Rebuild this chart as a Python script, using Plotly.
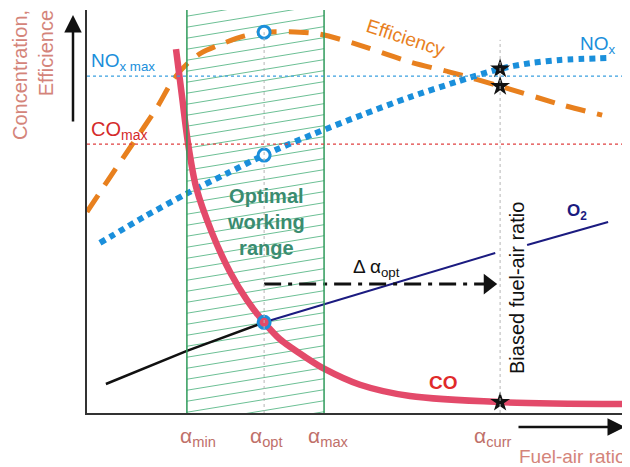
import numpy as np
import plotly.graph_objects as go

# ---------------- data (arbitrary units) ----------------
alpha_min = 1.85
alpha_opt = 3.28
alpha_max = 4.39
alpha_curr = 7.65
alpha_names = ["min", "opt", "max", "curr"]

nox_max = 83.6
co_max = 66.7

eff_x = [0.0, 0.39, 0.83, 1.30, 1.59, 1.85, 2.11, 2.50, 2.90, 3.28, 3.94, 4.31, 4.93, 5.98, 6.72, 7.65, 8.81, 9.54]
eff_y = [49.9, 57.8, 66.5, 75.9, 82.6, 86.6, 89.3, 91.6, 93.5, 94.5, 94.5, 94.0, 91.8, 87.1, 84.6, 81.1, 76.4, 73.9]

nox_x = [0.24, 1.05, 1.87, 2.60, 3.28, 4.19, 5.10, 5.98, 6.85, 7.65, 8.20, 8.76, 9.69]
nox_y = [42.2, 48.6, 54.6, 59.5, 64.0, 69.2, 74.0, 78.4, 82.2, 85.4, 86.8, 87.6, 88.1]

co_x = [1.648, 1.759, 1.870, 2.019, 2.315, 2.648, 2.963, 3.28, 3.574, 4.074, 4.389, 5.056, 5.981, 7.65, 10.02]
co_y = [90.3, 78.6, 67.0, 56.1, 44.7, 35.0, 28.0, 22.5, 18.3, 13.6, 11.0, 7.0, 4.2, 2.7, 2.2]

o2_lean_x = [0.35, 1.85, 3.28]
o2_lean_y = [7.2, 15.4, 22.5]
o2_rich_x = [3.28, 7.56, None, 8.15, 9.65]
o2_rich_y = [22.5, 39.7, None, 41.7, 47.4]

# ---------------- styling ----------------
FONT = "Liberation Sans, Arial, sans-serif"
C_EFF = "#E8801E"
C_NOX = "#1A8FDB"
C_CO = "#E34A6A"
C_O2 = "#1B1B80"
C_GREEN = "#2E9A5A"
C_HATCH = "#6CC095"
C_SALMON = "#D4847A"
C_TEAL = "#3A8C70"

# the page body adds an 8px margin: the figure is placed at (8, 8)
OFF = 8
W, H = 630 - OFF, 467 - OFF
ML, MR, MT, MB = 87 - OFF, 0, 10 - OFF, 54
PW = W - ML - MR
PH = H - MT - MB
XMAX = PW / 54.0


def px(xp):
    return (xp - 87) / PW


def py(yp):
    return (413 - yp) / PH


fig = go.Figure()

# hatched optimal working range
hatch_slope = 2.2
hatch_gap = 2.73
hx, hy = [], []
for c in np.arange(-8.0, 100.0, hatch_gap):
    hx += [alpha_min, alpha_max, None]
    hy += [c, c + hatch_slope * (alpha_max - alpha_min), None]
fig.add_trace(go.Scatter(x=hx, y=hy, mode="lines", line=dict(color=C_HATCH, width=1),
                         hoverinfo="skip", showlegend=False))

shapes = []
for a in (alpha_min, alpha_max):
    shapes.append(dict(type="line", xref="x", yref="y", x0=a, x1=a, y0=0, y1=100,
                       line=dict(color=C_GREEN, width=1.5)))
# reference horizontal lines
shapes.append(dict(type="line", xref="x", yref="y", x0=0, x1=XMAX, y0=nox_max, y1=nox_max,
                   line=dict(color="#3AA0E0", width=1.2, dash="dot")))
shapes.append(dict(type="line", xref="x", yref="y", x0=0, x1=XMAX, y0=co_max, y1=co_max,
                   line=dict(color="#E04040", width=1.2, dash="dot")))
# gray verticals
shapes.append(dict(type="line", xref="x", yref="y", x0=alpha_opt, x1=alpha_opt, y0=0,
                   y1=float(np.interp(alpha_opt, eff_x, eff_y)),
                   line=dict(color="#B5B5B5", width=1, dash="dot")))
shapes.append(dict(type="line", xref="x", yref="y", x0=alpha_curr, x1=alpha_curr, y0=0, y1=92.6,
                   line=dict(color="#B5B5B5", width=1, dash="dot")))

# curves
fig.add_trace(go.Scatter(x=o2_lean_x, y=o2_lean_y, mode="lines", line=dict(color="#111111", width=2.5),
                         hoverinfo="skip", showlegend=False))
fig.add_trace(go.Scatter(x=o2_rich_x, y=o2_rich_y, mode="lines", line=dict(color=C_O2, width=2),
                         connectgaps=False, hoverinfo="skip", showlegend=False))
fig.add_trace(go.Scatter(x=eff_x, y=eff_y, mode="lines",
                         line=dict(color=C_EFF, width=5, dash="20px,12px", shape="spline", smoothing=0.8),
                         hoverinfo="skip", showlegend=False))
fig.add_trace(go.Scatter(x=nox_x, y=nox_y, mode="lines",
                         line=dict(color=C_NOX, width=6, dash="6px,5px", shape="spline", smoothing=0.8),
                         hoverinfo="skip", showlegend=False))
fig.add_trace(go.Scatter(x=co_x, y=co_y, mode="lines",
                         line=dict(color=C_CO, width=6.5, shape="spline", smoothing=0.8),
                         hoverinfo="skip", showlegend=False))

# delta alpha arrow (dash-dot)
arrow_y = 32.0
head_x = alpha_curr - 0.22
fig.add_trace(go.Scatter(x=[alpha_opt, head_x], y=[arrow_y, arrow_y], mode="lines",
                         line=dict(color="#111111", width=3, dash="17px,7px,4px,7px"),
                         hoverinfo="skip", showlegend=False))
fig.add_trace(go.Scatter(x=[head_x], y=[arrow_y], mode="markers",
                         marker=dict(symbol="triangle-right", size=18, color="#111111"),
                         cliponaxis=False, hoverinfo="skip", showlegend=False))

# markers
eff_opt = float(np.interp(alpha_opt, eff_x, eff_y))
nox_opt = float(np.interp(alpha_opt, nox_x, nox_y))
co_opt = float(np.interp(alpha_opt, co_x, co_y))
fig.add_trace(go.Scatter(x=[alpha_opt, alpha_opt], y=[eff_opt, nox_opt], mode="markers",
                         marker=dict(symbol="circle", size=12, color="white",
                                     line=dict(color=C_NOX, width=3)),
                         hoverinfo="skip", showlegend=False))
fig.add_trace(go.Scatter(x=[alpha_opt], y=[co_opt], mode="markers",
                         marker=dict(symbol="circle", size=12, color=C_CO,
                                     line=dict(color=C_NOX, width=3)),
                         hoverinfo="skip", showlegend=False))
curr_vals = [float(np.interp(alpha_curr, nox_x, nox_y)),
             float(np.interp(alpha_curr, eff_x, eff_y)),
             float(np.interp(alpha_curr, co_x, co_y))]
fig.add_trace(go.Scatter(x=[alpha_curr] * 3, y=curr_vals, mode="markers",
                         marker=dict(symbol="star", size=15, color="#111111"),
                         cliponaxis=False, hoverinfo="skip", showlegend=False))

ann = []
# axis arrows
ann.append(dict(xref="paper", yref="paper", x=px(73), y=py(15), ax=0, ay=108, axref="pixel", ayref="pixel",
                text="", showarrow=True, arrowhead=2, arrowsize=1.4, arrowwidth=2.5, arrowcolor="#111111"))
ann.append(dict(xref="paper", yref="paper", x=px(625), y=py(427), ax=-108, ay=0,
                text="", showarrow=True, arrowhead=2, arrowsize=1.4, arrowwidth=2.5, arrowcolor="#111111"))
# y title
ann.append(dict(xref="paper", yref="paper", x=px(33), y=py(8), xanchor="center", yanchor="top",
                text="Concentration,<br>Efficience", textangle=-90, align="right", showarrow=False,
                font=dict(family=FONT, size=20, color=C_SALMON)))
# x title
ann.append(dict(xref="paper", yref="paper", x=px(517), y=py(456), xanchor="left", yanchor="middle",
                text="Fuel-air ratio", showarrow=False,
                font=dict(family=FONT, size=19, color=C_SALMON)))
# alpha labels
for a, name, sh in zip([alpha_min, alpha_opt, alpha_max, alpha_curr], alpha_names, [11, 2, 4, -7]):
    ann.append(dict(xref="x", yref="paper", x=a, y=py(437), xanchor="center", yanchor="middle", xshift=sh,
                    text="α<sub>" + name + "</sub>", showarrow=False,
                    font=dict(family=FONT, size=21, color="#C0706A")))
# curve labels
ann.append(dict(xref="paper", yref="paper", x=px(89), y=py(62), xanchor="left", yanchor="middle",
                text="NO<sub>x max</sub>", showarrow=False, font=dict(family=FONT, size=19, color=C_NOX)))
ann.append(dict(xref="paper", yref="paper", x=px(89), y=py(130), xanchor="left", yanchor="middle",
                text="CO<sub>max</sub>", showarrow=False, font=dict(family=FONT, size=20, color="#D42A2A")))
ann.append(dict(xref="paper", yref="paper", x=px(578), y=py(45), xanchor="left", yanchor="middle",
                text="NO<sub>x</sub>", showarrow=False, font=dict(family=FONT, size=19, color=C_NOX)))
ann.append(dict(xref="paper", yref="paper", x=px(565), y=py(212), xanchor="left", yanchor="middle",
                text="<b>O<sub>2</sub></b>", showarrow=False, font=dict(family=FONT, size=17, color=C_O2)))
ann.append(dict(xref="paper", yref="paper", x=px(443), y=py(382), xanchor="center", yanchor="middle",
                text="<b>CO</b>", showarrow=False, font=dict(family=FONT, size=19, color="#E02A2A")))
ann.append(dict(xref="paper", yref="paper", x=px(405), y=py(38), xanchor="center", yanchor="middle",
                text="Efficiency", textangle=18, showarrow=False, font=dict(family=FONT, size=19, color=C_EFF)))
ann.append(dict(xref="paper", yref="paper", x=px(266), y=py(222), xanchor="center", yanchor="middle",
                text="<b>Optimal<br>working<br>range</b>", showarrow=False,
                font=dict(family=FONT, size=20, color=C_TEAL)))
ann.append(dict(xref="paper", yref="paper", x=px(376), y=py(268), xanchor="center", yanchor="middle",
                text="Δ α<sub>opt</sub>", showarrow=False, font=dict(family=FONT, size=19, color="#111111")))
ann.append(dict(xref="paper", yref="paper", x=px(517), y=py(288), xanchor="center", yanchor="middle",
                text="Biased fuel-air ratio", textangle=-90, showarrow=False,
                font=dict(family=FONT, size=20, color="#111111")))

fig.update_layout(
    width=W, height=H,
    margin=dict(l=ML, r=MR, t=MT, b=MB),
    paper_bgcolor="white", plot_bgcolor="white",
    shapes=shapes, annotations=ann,
    xaxis=dict(range=[0, XMAX], showgrid=False, zeroline=False, showticklabels=False, ticks="",
               showline=True, linecolor="#333333", linewidth=2, fixedrange=True),
    yaxis=dict(range=[0, 100], showgrid=False, zeroline=False, showticklabels=False, ticks="",
               showline=True, linecolor="#333333", linewidth=2, fixedrange=True),
    showlegend=False,
)

fig.write_html("out.html", config={"displayModeBar": False})
